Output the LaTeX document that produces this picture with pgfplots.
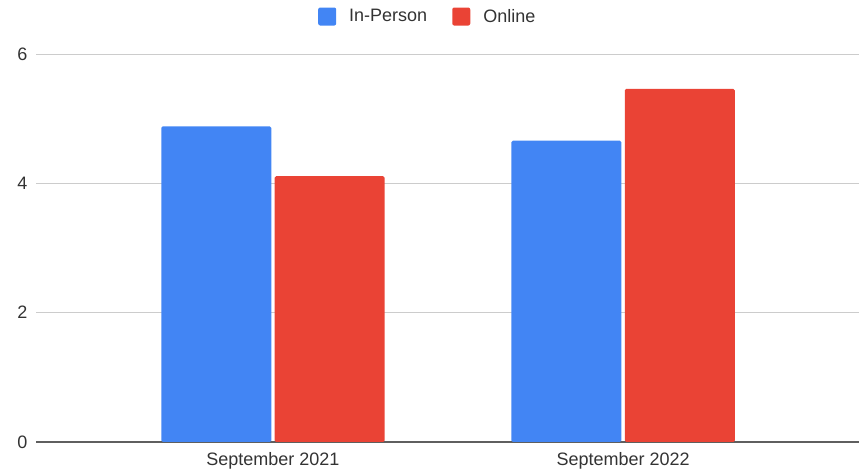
\documentclass[border=0pt]{standalone}
\usepackage{pgfplots}
\pgfplotsset{compat=1.18}
\usepackage{fontspec}
\setmainfont{Liberation Sans}
\definecolor{cblue}{HTML}{4285F4}
\definecolor{cred}{HTML}{EA4335}
\definecolor{ctext}{HTML}{333333}
\definecolor{cgrid}{HTML}{CCCCCC}
\definecolor{caxis}{HTML}{5F5F5F}
\begin{document}
\begin{tikzpicture}[x=1pt,y=1pt]
\begin{axis}[
  at={(36pt,28pt)}, anchor=south west,
  scale only axis, width=823pt, height=388pt,
  xmin=-0.677, xmax=1.674, ymin=0, ymax=6,
  ybar=3.4pt, bar width=110pt,
  xtick={0,1}, xticklabels={September 2021, September 2022},
  ytick={0,2,4,6},
  axis x line*=bottom, axis y line*=left,
  x axis line style={color=caxis, line width=1.3pt, -},
  y axis line style={draw=none},
  major tick length=0pt,
  ymajorgrids, grid style={color=cgrid, line width=0.9pt},
  /pgf/number format/assume math mode=true,
  tick label style={font=\fontsize{18}{21}\selectfont, text=ctext},
  yticklabel style={xshift=-5pt},
  xticklabel style={yshift=-7pt},
  legend style={at={(0.476,1.0966)}, anchor=center, draw=none, fill=none,
    legend columns=2, font=\fontsize{18}{21}\selectfont, text=ctext,
    /tikz/every odd column/.append style={column sep=11pt},
    /tikz/every even column/.append style={column sep=23pt}},
  legend image code/.code={\fill[#1, draw=none, rounded corners=2pt] (0pt,-9pt) rectangle (18pt,9pt);},
  legend cell align=left,
]
\addplot[fill=cblue, draw=none, rounded corners=1.5pt] coordinates {(0,4.88) (1,4.66)};
\addplot[fill=cred, draw=none, rounded corners=1.5pt] coordinates {(0,4.11) (1,5.46)};
\legend{In-Person, Online}
\end{axis}
\pgfresetboundingbox
\path[use as bounding box] (0,0) rectangle (865pt,470pt);
\end{tikzpicture}
\end{document}
